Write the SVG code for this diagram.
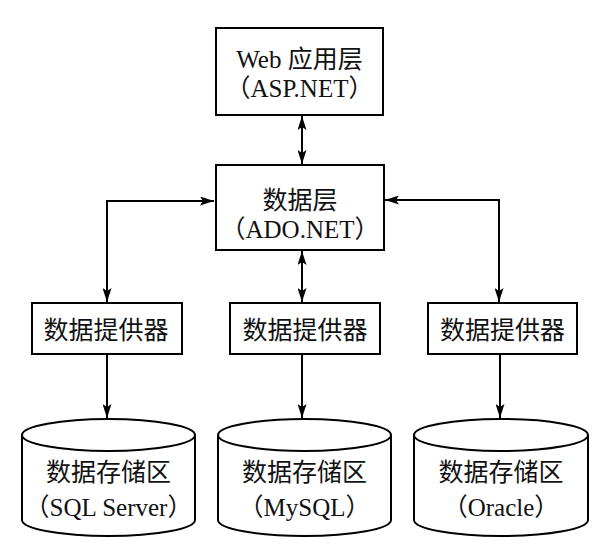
<svg xmlns="http://www.w3.org/2000/svg" width="595" height="558" viewBox="0 0 595 558">
<defs>
<marker id="ah" viewBox="0 0 14 9" refX="14" refY="4.5" markerWidth="14" markerHeight="9" markerUnits="userSpaceOnUse" orient="auto-start-reverse">
<path d="M0,0 L14,4.5 L0,9 L3,4.5 Z" fill="#000"/>
</marker>
</defs>
<style>
.box{fill:#fff;stroke:#000;stroke-width:2}
.cyl{fill:#fff;stroke:#000;stroke-width:2}
.ln{fill:none;stroke:#000;stroke-width:2}
text{font-family:"Liberation Serif","Noto Sans CJK SC",serif;font-size:25px;fill:#111;text-anchor:middle}
</style>
<rect width="595" height="558" fill="#fff"/>
<g id="connectors">
<line class="ln" x1="302" y1="116" x2="302" y2="164" marker-start="url(#ah)" marker-end="url(#ah)"/>
<polyline class="ln" points="214,201 107,201 107,302" marker-start="url(#ah)" marker-end="url(#ah)"/>
<polyline class="ln" points="385,200 499,200 499,302" marker-start="url(#ah)" marker-end="url(#ah)"/>
<line class="ln" x1="302" y1="251" x2="302" y2="302" marker-start="url(#ah)" marker-end="url(#ah)"/>
<line class="ln" x1="107" y1="354" x2="107" y2="418" marker-end="url(#ah)"/>
<line class="ln" x1="302" y1="354" x2="302" y2="418" marker-end="url(#ah)"/>
<line class="ln" x1="500" y1="354" x2="500" y2="418" marker-end="url(#ah)"/>
</g>
<g id="web">
<rect class="box" x="216" y="28" width="167" height="87"/>
<text x="299.5" y="68">Web 应用层</text>
<text x="299.5" y="97">（ASP.NET）</text>
</g>
<g id="data">
<rect class="box" x="216" y="165" width="168" height="85"/>
<text x="300" y="209">数据层</text>
<text x="300" y="238">（ADO.NET）</text>
</g>
<g id="prov1">
<rect class="box" x="32" y="303" width="150" height="51"/>
<text x="106" y="339">数据提供器</text>
</g>
<g id="prov2">
<rect class="box" x="230" y="303" width="150" height="51"/>
<text x="305" y="339">数据提供器</text>
</g>
<g id="prov3">
<rect class="box" x="428" y="303" width="149" height="51"/>
<text x="502.5" y="339">数据提供器</text>
</g>
<g id="store1">
<path class="cyl" d="M22,435 A86.5,16 0 0 1 195,435 L195,520 A86.5,16 0 0 1 22,520 Z"/>
<path class="ln" d="M22,435 A86.5,16 0 0 0 195,435"/>
<text x="108.5" y="481">数据存储区</text>
<text x="108.5" y="516">（SQL Server）</text>
</g>
<g id="store2">
<path class="cyl" d="M218,435 A86.5,16 0 0 1 391,435 L391,520 A86.5,16 0 0 1 218,520 Z"/>
<path class="ln" d="M218,435 A86.5,16 0 0 0 391,435"/>
<text x="304.5" y="481">数据存储区</text>
<text x="304.5" y="516">（MySQL）</text>
</g>
<g id="store3">
<path class="cyl" d="M414,435 A87,16 0 0 1 588,435 L588,520 A87,16 0 0 1 414,520 Z"/>
<path class="ln" d="M414,435 A87,16 0 0 0 588,435"/>
<text x="501" y="481">数据存储区</text>
<text x="501" y="516">（Oracle）</text>
</g>
</svg>
